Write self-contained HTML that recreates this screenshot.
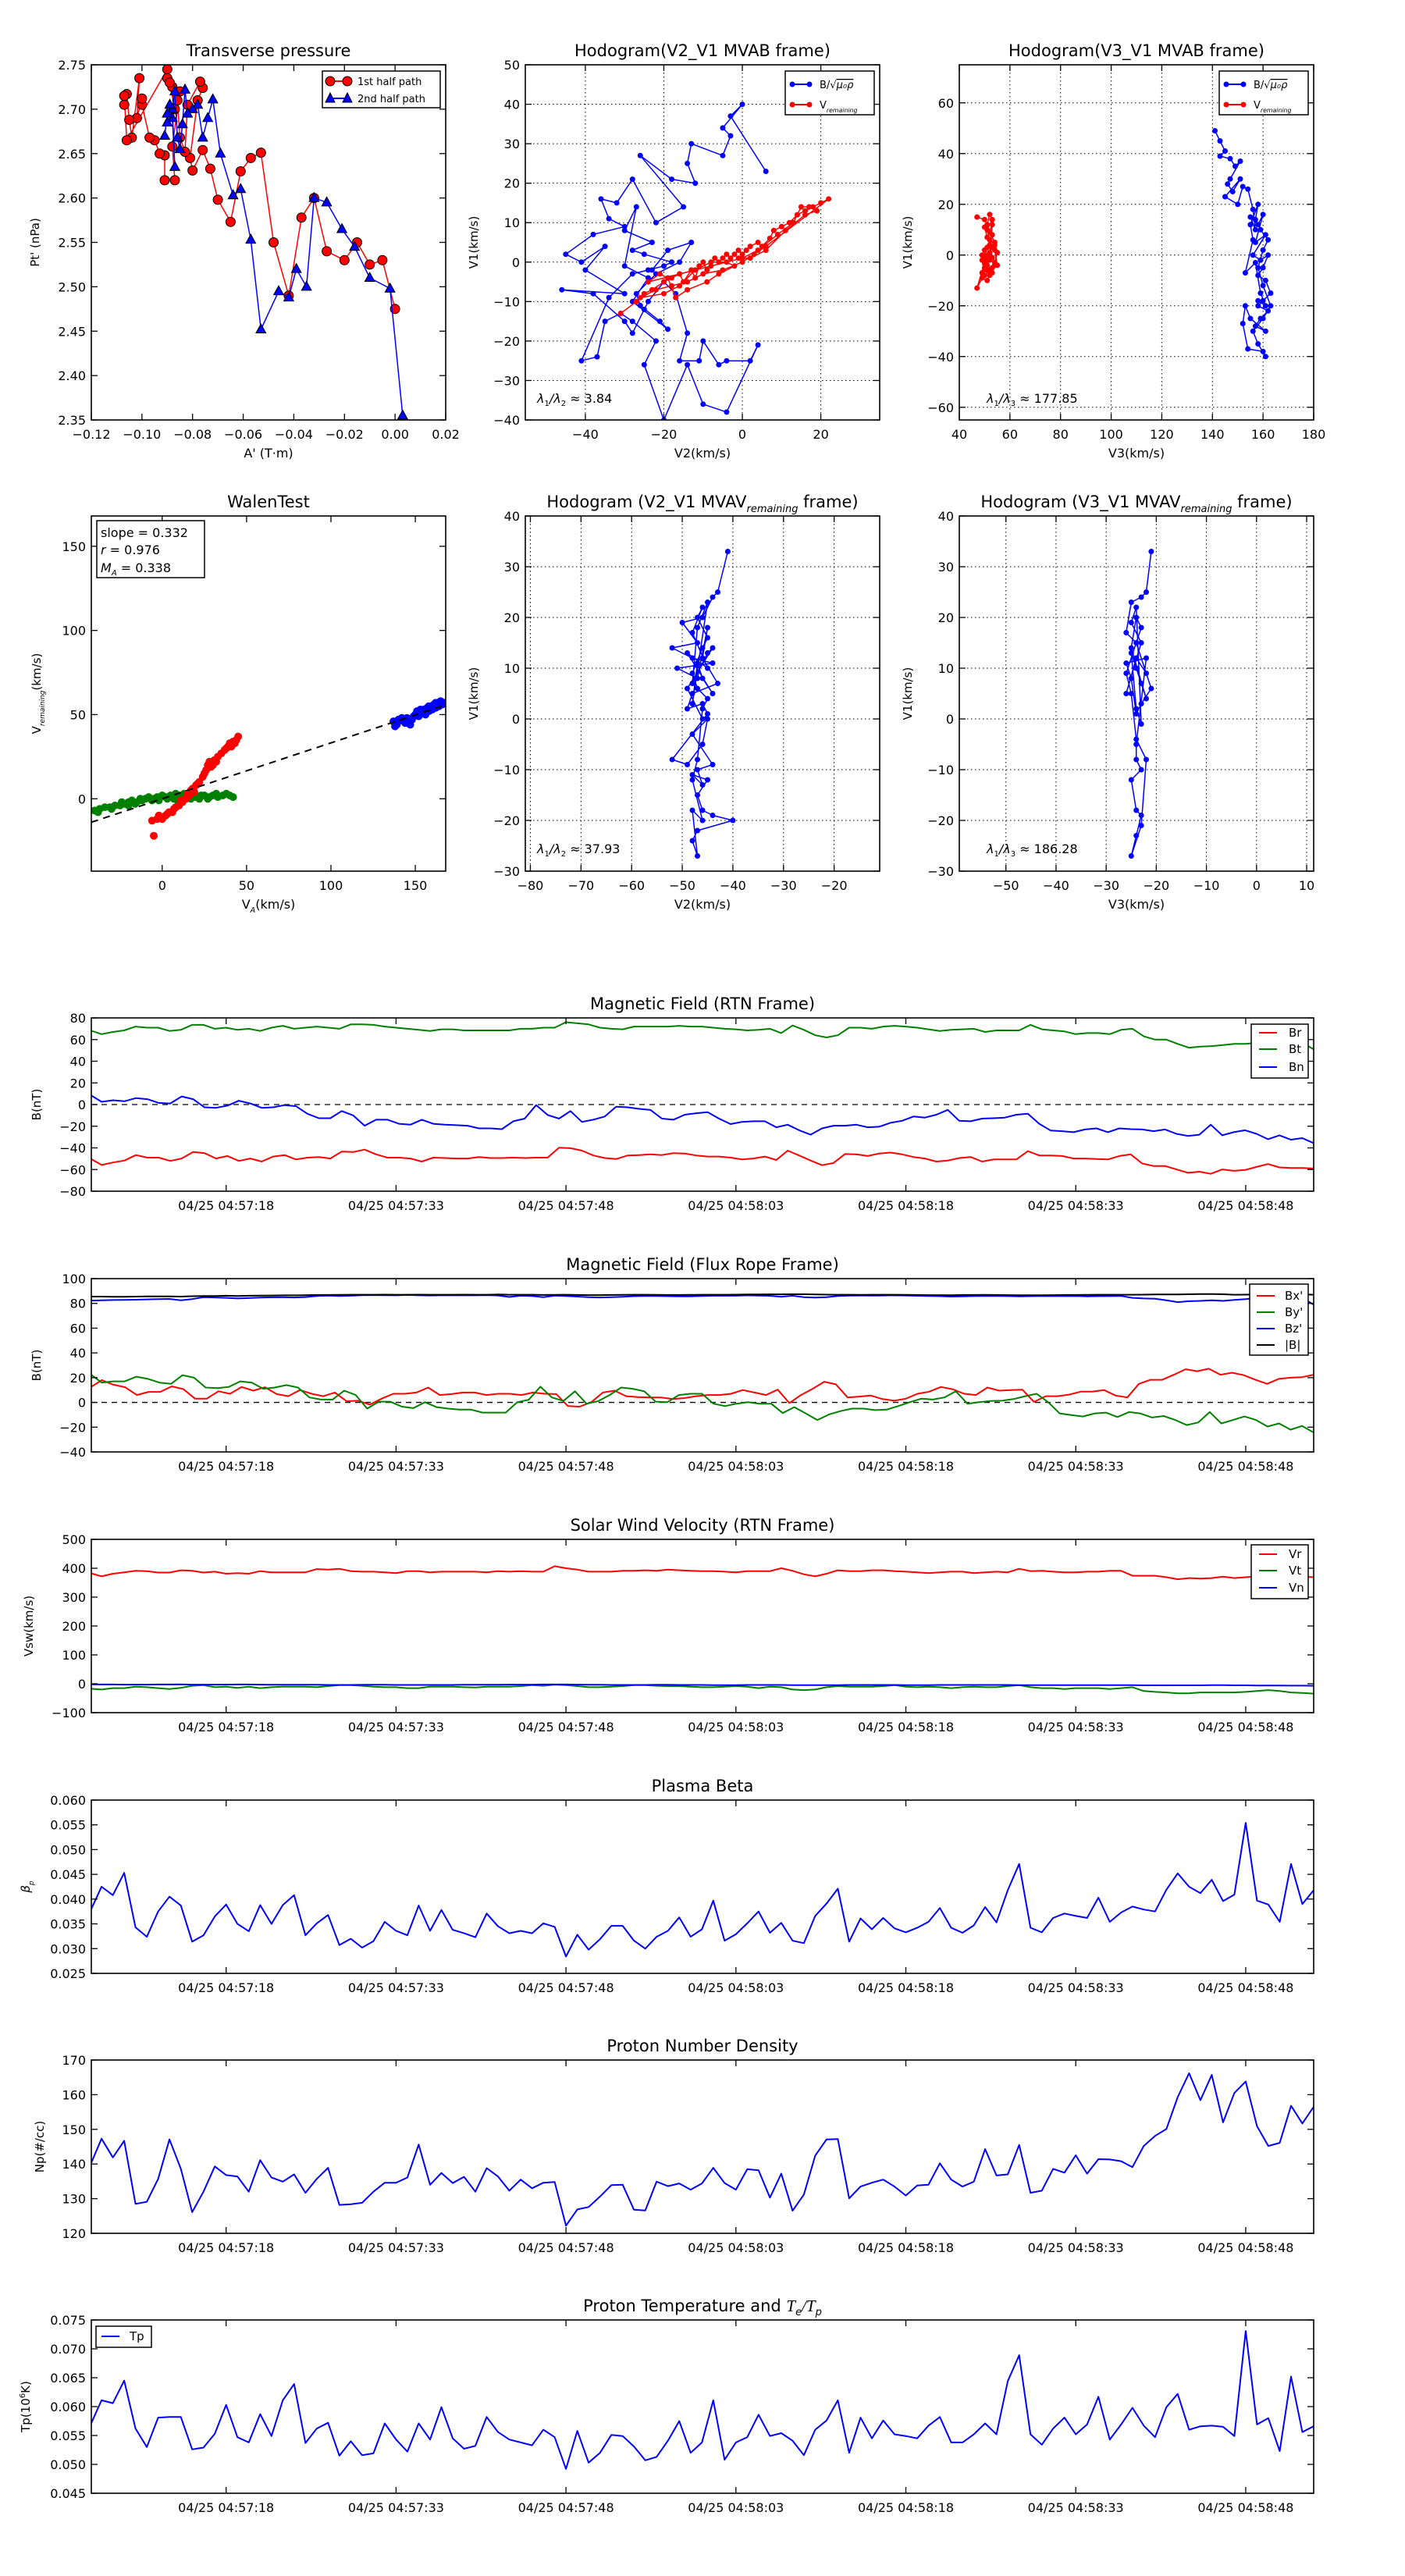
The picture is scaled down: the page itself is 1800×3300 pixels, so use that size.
<!DOCTYPE html>
<html><head><meta charset="utf-8"><title>Flux rope analysis</title>
<style>
html,body{margin:0;padding:0;background:#fff;}
svg{display:block;font-family:"DejaVu Sans","Liberation Sans",sans-serif;}
</style></head>
<body>
<svg id="fig" width="1800" height="3300" viewBox="0 0 1800 3300" xmlns="http://www.w3.org/2000/svg">
<rect x="0" y="0" width="1800" height="3300" fill="#fff"/>
</svg>
<script>
// ---------- Transverse pressure ----------
const tpRedA=[0.000,-0.005,-0.010,-0.015,-0.020,-0.027,-0.032,-0.037,-0.042,-0.048,-0.053,-0.057,-0.061,-0.065,-0.070,-0.073,-0.076,-0.080,-0.081,-0.078,-0.076,-0.077,-0.082,-0.083,-0.085,-0.086,-0.085,-0.088,-0.087,-0.091,-0.091,-0.093,-0.095,-0.097,-0.100,-0.100,-0.102,-0.101,-0.104,-0.105,-0.106,-0.107,-0.107,-0.106,-0.090,-0.090,-0.088,-0.087,-0.089];
const tpRedP=[2.475,2.530,2.525,2.550,2.530,2.540,2.600,2.578,2.490,2.550,2.651,2.645,2.630,2.573,2.598,2.633,2.654,2.631,2.645,2.710,2.724,2.731,2.705,2.652,2.668,2.710,2.720,2.658,2.620,2.620,2.648,2.650,2.665,2.668,2.705,2.712,2.690,2.735,2.668,2.688,2.717,2.705,2.715,2.665,2.745,2.735,2.725,2.700,2.730];
const tpBlueA=[0.003,-0.002,-0.010,-0.016,-0.021,-0.027,-0.032,-0.035,-0.039,-0.042,-0.046,-0.053,-0.057,-0.061,-0.064,-0.069,-0.072,-0.074,-0.076,-0.078,-0.080,-0.082,-0.083,-0.084,-0.085,-0.086,-0.087,-0.088,-0.087,-0.088,-0.089,-0.090,-0.090,-0.091];
const tpBlueP=[2.355,2.498,2.510,2.545,2.565,2.595,2.600,2.500,2.520,2.488,2.495,2.452,2.553,2.610,2.603,2.650,2.711,2.690,2.668,2.705,2.700,2.695,2.722,2.683,2.655,2.668,2.720,2.700,2.635,2.690,2.705,2.685,2.695,2.670];
const tpXTicks=[-0.12,-0.10,-0.08,-0.06,-0.04,-0.02,0.00,0.02];
const tpXLabels=["\u22120.12","\u22120.10","\u22120.08","\u22120.06","\u22120.04","\u22120.02","0.00","0.02"];
const tpYTicks=[2.35,2.40,2.45,2.50,2.55,2.60,2.65,2.70,2.75];
const tpYLabels=["2.35","2.40","2.45","2.50","2.55","2.60","2.65","2.70","2.75"];
// ---------- Hodogram V2-V1 MVAB ----------
const h1BlueX=[6,-3,0,-5,-3,-5,-13,-14,-12,-18,-26,-15,-22,-28,-32,-36,-34,-30,-38,-45,-41,-35,-40,-30,-46,-38,-30,-28,-25,-24,-20,-17,-14,-16,-11,-10,-6,-4,2,4,-4,-10,-14,-20,-25,-22,-28,-31,-35,-37,-41,-34,-28,-24,-20,-18,-25,-28,-23,-30,-27,-30,-24,-28,-19,-21,-26,-27,-22,-16,-13,-19,-23];
const h1BlueY=[23,37,40,34,32,27,30,25,20,21,27,14,10,21,15,16,11,9,7,2,0,4,-2,-8,-7,-8,-15,-18,-12,-10,-5,-8,-18,-25,-25,-20,-26,-25,-25,-21,-38,-36,-26,-40,-26,-20,-15,-13,-15,-24,-25,-9,-3,-2,-1,0,2,3,5,8,14,-1,-4,-10,-17,-15,-11,-8,-3,0,5,3,-2];
const h1RedX=[-31,-27,-25,-23,-20,-18,-16,-15,-13,-12,-11,-10,-9,-8,-7,-6,-5,-4,-3,-2,-1,0,1,2,4,5,7,8,10,12,14,16,18,20,22,6,3,0,-5,-10,-14,-18,-22,-26,-20,-16,-12,-8,-4,-2,-6,-9,-14,-17,-19,-21,-24,0,4,9,13,15,17,19,16,11,6,2,-1];
const h1RedY=[-13,-10,-8,-7,-5,-4,-3,-5,-2,-4,-1,0,-2,-1,1,0,1,2,1,2,3,2,3,4,5,4,6,8,9,10,12,13,14,15,16,4,2,0,-2,-3,-5,-6,-7,-9,-8,-6,-2,0,0,-1,-3,-5,-7,-9,-4,-3,-5,1,3,7,10,14,14,13,12,8,3,1,1];
const h1XTicks=[-40,-20,0,20];
const h1XLabels=["\u221240","\u221220","0","20"];
const h1YTicks=[-40,-30,-20,-10,0,10,20,30,40,50];
const h1YLabels=["\u221240","\u221230","\u221220","\u221210","0","10","20","30","40","50"];
// ---------- Hodogram V3-V1 MVAB ----------
const h2RedX=[47,50,51,52,53,51,53,52,54,53,52,51,50,52,54,53,51,49,50,52,51,49,47,50,53,55,54,52,50,49,51,53,55,54,52,50,51,53,52,51,52,54,50,49,51];
const h2RedY=[15,14,12,16,14,10,8,6,4,3,1,0,-1,-2,-3,-5,-6,-7,-5,-8,-10,-9,-13,-3,-1,-4,2,4,2,0,-4,-7,1,5,9,11,7,12,0,-2,-6,-4,-8,-2,3];
const h2BlueX=[141,143,145,143,147,149,151,147,146,148,151,145,150,152,154,156,157,155,158,160,157,161,156,159,162,160,158,161,163,160,158,162,159,157,161,155,153,152,154,160,161,158,156,160,163,160,158,160,162,159,157,158,155,156,153,157,159,161,158];
const h2BlueY=[49,45,41,39,38,35,37,30,28,25,30,23,20,27,26,18,10,15,12,16,5,8,0,-2,0,-5,-8,-10,-15,-18,-20,-22,-25,-28,-30,-25,-20,-27,-37,-38,-40,-35,-30,-25,-20,-12,-5,2,6,10,14,20,12,6,-7,-3,-15,-20,-18];
const h2XTicks=[40,60,80,100,120,140,160,180];
const h2XLabels=["40","60","80","100","120","140","160","180"];
const h2YTicks=[-60,-40,-20,0,20,40,60];
const h2YLabels=["\u221260","\u221240","\u221220","0","20","40","60"];
// ---------- Walen test ----------
const wGreenX=[-40,-37,-34,-31,-28,-25,-22,-20,-18,-15,-13,-10,-8,-5,-3,0,2,5,8,10,12,15,18,20,23,25,28,30,33,36,38,40,42,-30,-20,-12,-6,3,7,13,17,22,27,32,-38,-24,-16,-2,9,19];
const wGreenY=[-7,-6,-5,-5,-4,-4,-3,-2,-1,-2,0,0,1,0,1,2,1,2,3,2,1,2,3,1,2,2,1,2,1,2,3,2,1,-6,-4,-1,-1,0,0,3,0,0,0,3,-8,-2,-3,-1,-1,2];
const wRedX=[-5,-6,-3,0,2,4,6,8,10,12,14,16,17,18,20,22,24,26,27,28,30,31,33,35,37,39,40,42,44,45,-2,3,7,11,15,19,25,32,38,43,41,29,21];
const wRedY=[-22,-13,-12,-12,-10,-8,-8,-5,-4,-2,0,2,5,6,8,10,13,17,20,22,20,23,25,27,29,31,33,34,35,37,-10,-9,-6,-1,3,4,15,22,30,33,31,19,9];
const wBlueX=[137,138,140,142,144,145,147,148,150,151,152,154,155,156,157,158,159,160,161,162,163,164,165,166,167,146,149,153,158,162,139,143];
const wBlueY=[46,43,47,48,45,48,44,47,50,52,49,51,53,50,54,52,55,53,56,54,57,55,58,56,57,46,49,53,55,57,44,46];
const wSlope=[0.332];
const wXTicks=[0,50,100,150];
const wXLabels=["0","50","100","150"];
const wYTicks=[0,50,100,150];
const wYLabels=["0","50","100","150"];
// ---------- Hodogram V2-V1 MVAV ----------
const h3X=[-41,-43,-44,-46,-50,-47,-52,-48,-44,-51,-47,-45,-46,-43,-48,-49,-46,-45,-52,-49,-46,-45,-48,-44,-47,-46,-48,-45,-47,-46,-44,-40,-47,-48,-47,-48,-46,-48,-47,-46,-45,-47,-48,-46,-45,-47,-46,-48,-45,-49,-44,-46,-47,-48,-45,-47,-48,-45,-44,-49,-46];
const h3Y=[33,25,24,20,19,15,14,12,11,10,8,18,12,7,5,2,3,1,-8,-9,-5,0,-3,-9,-10,-13,-11,-12,-15,-18,-19,-20,-22,-24,-27,-18,-20,-12,-8,2,4,6,9,14,16,20,22,17,10,13,5,8,11,3,23,18,7,13,14,6,0];
const h3XTicks=[-80,-70,-60,-50,-40,-30,-20];
const h3XLabels=["\u221280","\u221270","\u221260","\u221250","\u221240","\u221230","\u221220"];
const vYTicks=[-30,-20,-10,0,10,20,30,40];
const vYLabels=["\u221230","\u221220","\u221210","0","10","20","30","40"];
// ---------- Hodogram V3-V1 MVAV ----------
const h4X=[-21,-22,-23,-25,-26,-24,-21,-23,-24,-25,-26,-22,-24,-24,-23,-25,-24,-23,-24,-25,-23,-22,-24,-25,-26,-23,-24,-25,-22,-23,-24,-25,-24,-23,-24,-25,-23,-26,-24,-22];
const h4Y=[33,25,24,23,17,15,6,3,1,8,11,12,-5,-8,-10,-12,-18,-19,-23,-27,-21,-8,-4,5,9,18,20,14,4,7,10,13,2,-1,22,19,15,5,12,9];
const h4XTicks=[-50,-40,-30,-20,-10,0,10];
const h4XLabels=["\u221250","\u221240","\u221230","\u221220","\u221210","0","10"];
// ---------- Time series (1 sample per second, 04:57:06 - 04:58:54) ----------
const timeTicks=[18,33,48,63,78,93,108];
const timeLabels=["04/25 04:57:18","04/25 04:57:33","04/25 04:57:48","04/25 04:58:03","04/25 04:58:18","04/25 04:58:33","04/25 04:58:48"];
const Br=[-49.8,-55.8,-53.5,-51.7,-46.6,-49,-49,-52,-49.8,-43.8,-44.8,-49.8,-47.5,-52,-49.8,-52.6,-48,-46.6,-50.7,-49,-48.4,-49.8,-43.4,-43.8,-41.6,-46,-49,-49,-49.8,-52.6,-49,-49.4,-49.8,-49.8,-48.4,-49.4,-49.4,-49,-49.4,-49,-49,-39.8,-40.3,-42.5,-47,-49.4,-50.3,-47,-46.6,-46,-46.6,-44.8,-45.2,-47,-48,-48,-49,-50.7,-49.8,-48,-51.2,-42.5,-47,-51.7,-56,-54,-45.7,-46,-47.5,-45.2,-44.3,-46,-48.4,-49.8,-52.6,-51.7,-49.4,-48.4,-52.6,-50.7,-50.7,-50.7,-43,-47,-47,-47.5,-49.8,-49.8,-50.3,-50.7,-47.5,-46,-54.4,-56.7,-56.7,-59.9,-63,-62,-63.9,-59.9,-61.2,-60.4,-57.6,-54.9,-58,-58.5,-58.5,-59];
const Bt=[68.5,65,67,68.5,72,71,71,68,69,73.6,73.6,70,71,69,70,68,71,72.7,70,71,72,71,70,74,74,73.6,72,71,70,69,68,69.5,69.5,68.5,68.5,68.5,68.5,68.5,70,70,71,71,76,75,74,71,70,69.5,72,72,72,72,72.7,72,72,71,70,69.5,68.5,69,70,66,73,69,64,62,64,71,71,70,72,72.7,72,71,69.5,68,69,69.5,70,67,68.5,68.5,68.5,73.6,69.5,68.5,67.5,65,66,66,65,69,70,63,60,60,56,52.5,53.5,54,55,56,56,57,58,58,60,57,51];
const Bn=[9,2.5,4,3,6,5,1.5,1,7.5,5,-2.5,-3,-1,3.5,1,-3,-2.5,-0.5,-1.5,-8.5,-12.6,-12.6,-6,-10,-19.5,-14,-14,-17.7,-18.6,-14,-17.7,-18.6,-19,-19.5,-22,-22,-22.7,-15.4,-13,-0.5,-9.6,-13,-6,-16,-14,-11,-2,-2.5,-4,-5,-13,-14,-9.4,-8,-7,-13,-18,-16,-15.4,-15.4,-21,-18.6,-23.7,-27.8,-22,-19.5,-19.5,-18.6,-21,-20.5,-16.8,-15,-11,-12,-9.4,-4.9,-15,-15.4,-13,-12.6,-12,-9.4,-8.5,-17.7,-24,-24.6,-25.5,-23,-22,-25.5,-22,-22.7,-23,-24.6,-23,-27,-29,-27.8,-18.6,-28.4,-25.5,-23.7,-27,-32,-28.4,-32.4,-31,-35.6];
const Bxp=[12,18,14.3,12.3,6,8.5,8.5,13,10.7,3,3,9,7,12.5,9.5,12.3,6.7,5,10,7,5,8,1,1.4,-1.8,3,7,7,8,12,6,6.7,8,8,6,7,7,6,8,7,6.7,-3,-3.4,0.2,8,9.5,5,4.3,4,4,2.7,3.5,5,6,6,7,10,8,6,10.3,-0.5,6,11,16.7,14.6,4,4.7,5.5,2.7,1.4,3,7,8.7,12.5,10.7,7,6,12,9.5,10,10.3,0.4,5,5,6.3,8.7,8.7,10,5.5,4,15,18.3,18.3,22.4,26.8,25.2,27.2,22.4,24,22,18.3,15,19,20,20.4,22.4];
const Byp=[23,16,17,17,20.8,19,16,15,22,20,12,11.5,12.5,17,16,11,12,14,12,4,2.3,2.3,9.5,6,-5,0.6,0.6,-3.4,-4.6,0.2,-3.8,-5,-5.8,-5.8,-8.2,-8.2,-8.2,0.2,2.2,12.7,4,1.2,9,-1,1,6,12,11,9,0.6,0.2,6,7,7,-1,-3,-1,0.2,-1,-1,-8.6,-3.8,-9,-14.2,-9.8,-7,-5,-5,-6.2,-5.8,-3,0.2,3,2.3,4,9,-1,0.2,1.2,1.4,2.7,5,7,0.2,-9,-10.2,-11.4,-9,-8.2,-11.8,-7.8,-9,-12.2,-11,-14.2,-18.3,-16.2,-7.8,-17,-14.2,-11.4,-14.2,-19.5,-17,-22,-19,-24.3];
const Bzp=[82.3,82.5,82.7,82.8,83.0,83.2,83.5,83.6,82.5,83.5,85.0,84.8,84.5,84.0,84.3,84.7,84.9,85.0,84.8,85.1,86.0,86.3,86.0,86.2,86.6,86.7,86.6,86.5,86.8,86.5,86.4,86.6,86.5,86.6,86.5,86.7,86.4,85.2,86.2,86.0,85.0,86.3,86.0,85.5,85.0,84.8,85.0,85.3,85.8,86.0,86.0,85.8,85.6,85.7,86.0,86.2,86.3,86.2,86.5,86.3,86.1,85.4,86.2,85.0,84.7,85.0,86.0,86.3,86.4,86.3,86.4,86.5,86.4,86.1,86.0,85.8,85.5,85.6,85.9,86.0,86.0,85.9,85.6,85.8,86.0,85.9,85.9,86.0,85.7,85.8,85.9,86.0,84.5,84.0,83.8,82.5,81.0,81.8,82.0,82.5,82.0,82.8,83.4,84.5,85.5,86.0,86.0,84.5,79.0];
const Btot=[85.5,85.5,85.3,85.4,85.5,85.6,85.6,85.7,85.5,85.8,86.0,86.0,86.2,86.0,86.2,86.3,86.4,86.5,86.5,86.6,86.8,86.8,86.9,87.0,87.0,87.0,87.1,87.0,87.0,87.1,87.0,87.0,87.0,87.1,87.0,87.0,87.2,87.0,87.0,87.0,86.8,86.9,87.0,86.8,86.7,86.7,86.8,86.9,87.0,87.0,86.9,86.8,86.8,86.9,87.0,87.0,87.0,87.1,87.2,87.2,87.3,87.3,87.4,87.4,87.2,87.1,87.0,87.0,86.9,87.0,87.0,87.0,86.9,86.8,86.7,86.7,86.6,86.8,86.8,86.9,86.8,86.7,86.6,86.6,86.6,86.7,86.8,86.8,86.9,87.0,87.0,87.0,87.0,87.1,87.2,87.2,87.2,87.4,87.5,87.5,87.4,87.0,87.1,87.2,87.0,87.1,87.2,87.3,87.0];
const Vr=[383,372,381,386,391,390,385,385,393,391,385,388,381,383,381,390,386,386,386,386,397,395,398,390,388,388,386,383,390,390,386,388,388,388,388,386,390,388,390,388,388,407,400,395,388,388,388,391,391,393,391,395,393,391,390,390,388,386,390,390,390,400,391,379,372,381,393,390,390,393,393,390,388,386,383,386,388,388,383,386,388,386,398,390,391,388,386,386,388,388,391,391,374,374,374,369,362,366,364,366,371,366,369,372,374,371,369,371,369];
const Vt=[-17,-20,-15,-15,-10,-12,-15,-18,-14,-7,-5,-12,-10,-14,-10,-15,-12,-10,-10,-10,-12,-8,-5,-5,-7,-10,-12,-12,-15,-15,-10,-10,-10,-12,-13,-10,-10,-10,-8,-5,-7,-3,-5,-8,-12,-12,-10,-8,-5,-5,-7,-8,-8,-10,-12,-12,-10,-8,-10,-15,-10,-12,-20,-22,-20,-12,-8,-10,-10,-10,-8,-5,-10,-12,-10,-12,-15,-12,-10,-12,-12,-8,-5,-12,-15,-15,-18,-15,-15,-15,-18,-15,-12,-25,-28,-30,-33,-33,-30,-30,-30,-30,-28,-25,-22,-25,-30,-32,-34];
const Vn=[-2,-2.5,-2.5,-3,-3,-3,-2.5,-2.5,-2,-3,-3,-3,-3,-2.5,-2.5,-3,-3.5,-3.5,-3.5,-3.5,-3.5,-4,-4,-4,-3.5,-3.5,-3.5,-4,-4,-4,-4,-4,-4,-3.5,-3.5,-3.5,-3.5,-3,-3,-3,-2.5,-2.5,-2.5,-3,-3.5,-3.5,-4,-4,-4,-4,-3.5,-3.5,-4,-4,-4,-4.5,-4.5,-4.5,-4,-4,-4,-4,-4.5,-5,-5,-5,-4.5,-4,-4,-4,-4,-4,-4.5,-4.5,-4.5,-4,-4,-4,-4,-4,-4,-4,-4.5,-4.5,-4.5,-5,-5,-5,-5,-5,-5,-5,-5,-5.5,-5.5,-5.5,-5.5,-5.5,-5.5,-5,-5,-5.5,-5.5,-6,-6,-6,-6.5,-6.5,-7];
const beta=[0.0375,0.0425,0.0408,0.0453,0.0343,0.0324,0.0375,0.0405,0.0387,0.0314,0.0327,0.0365,0.0389,0.0350,0.0335,0.0388,0.0350,0.0388,0.0408,0.0327,0.0351,0.0368,0.0307,0.0320,0.0302,0.0315,0.0354,0.0336,0.0327,0.0387,0.0336,0.0378,0.0338,0.0331,0.0323,0.0371,0.0345,0.0331,0.0336,0.0331,0.0351,0.0344,0.0284,0.0328,0.0298,0.0319,0.0346,0.0346,0.0316,0.0300,0.0324,0.0336,0.0363,0.0324,0.0339,0.0397,0.0316,0.0329,0.0351,0.0375,0.0332,0.0352,0.0316,0.0311,0.0366,0.0391,0.0421,0.0314,0.0361,0.0339,0.0362,0.0341,0.0333,0.0342,0.0354,0.0382,0.0342,0.0332,0.0347,0.0384,0.0353,0.0418,0.0471,0.0342,0.0333,0.0362,0.0371,0.0366,0.0362,0.0403,0.0354,0.0373,0.0385,0.0379,0.0375,0.0419,0.0452,0.0425,0.0412,0.0439,0.0396,0.0409,0.0554,0.0397,0.0389,0.0354,0.0471,0.0390,0.0418];
const Np=[139.6,147.3,141.9,146.7,128.5,129.1,135.7,147.1,138.6,126.1,132,139.3,136.8,136.4,132,141.1,136.1,134.9,137,131.7,135.7,138.9,128.2,128.4,128.8,132,134.6,134.6,136.1,145.6,134,137.4,134.5,136.3,132,138.8,136.4,132.3,135.5,133,134.6,134.8,122.2,126.9,127.6,130.6,133.9,134,126.8,126.6,134.9,133.6,134.4,132.6,134.4,138.9,134.5,132.6,138.5,138.2,130.3,137.2,126.5,131.2,142.4,147.1,147.2,130.1,133.5,134.6,135.5,133.5,130.9,133.8,134,140.2,135.5,133.5,134.9,144.3,136.7,137,145.5,131.7,132.3,138.6,137.5,142.5,137.2,141.4,141.3,140.8,139.1,145.2,148.1,150.1,159.3,166.2,158.4,165.7,152,160.5,163.8,150.9,145.2,146.1,156.8,151.7,156.5];
const Tp=[0.0567,0.0611,0.0606,0.0645,0.0562,0.0530,0.0581,0.0582,0.0582,0.0526,0.0529,0.0553,0.0603,0.0547,0.0538,0.0587,0.0549,0.0611,0.0639,0.0537,0.0562,0.0572,0.0515,0.0540,0.0516,0.0519,0.0571,0.0543,0.0522,0.0571,0.0543,0.0599,0.0545,0.0527,0.0532,0.0582,0.0556,0.0543,0.0538,0.0533,0.0560,0.0547,0.0492,0.0558,0.0503,0.0520,0.0551,0.0549,0.0531,0.0507,0.0513,0.0541,0.0575,0.0520,0.0538,0.0611,0.0508,0.0538,0.0547,0.0586,0.0549,0.0554,0.0541,0.0516,0.0560,0.0576,0.0611,0.0520,0.0581,0.0545,0.0576,0.0552,0.0549,0.0545,0.0567,0.0582,0.0538,0.0538,0.0552,0.0571,0.0552,0.0644,0.0689,0.0552,0.0534,0.0562,0.0581,0.0552,0.0569,0.0617,0.0543,0.0569,0.0598,0.0567,0.0547,0.0599,0.0622,0.0560,0.0566,0.0567,0.0565,0.0549,0.0731,0.0569,0.0580,0.0523,0.0652,0.0556,0.0566];

// ---------- drawing ----------
const NS='http://www.w3.org/2000/svg';
const svg=document.getElementById('fig');
let clipN=0;
function mk(tag,attrs,parent){const e=document.createElementNS(NS,tag);for(const k in attrs)e.setAttribute(k,attrs[k]);parent.appendChild(e);return e;}
function txt(str,attrs,parent){const e=mk('text',attrs,parent);e.textContent=str;return e;}

function axes(o){
  const g=mk('g',{},svg);
  
  
  const sx=v=>o.x+(v-o.xd[0])/(o.xd[1]-o.xd[0])*o.w;
  const sy=v=>o.y+o.h-(v-o.yd[0])/(o.yd[1]-o.yd[0])*o.h;
  const id='clip'+(clipN++);
  const cp=mk('clipPath',{id:id},g);
  mk('rect',{x:o.x,y:o.y,width:o.w,height:o.h},cp);
  if(o.grid){
    const gg=mk('g',{stroke:'#000','stroke-width':1,'stroke-dasharray':'1.5,3.5'},g);
    
    
    o.xticks.forEach(v=>{const X=sx(v);if(X>o.x+1&&X<o.x+o.w-1)mk('line',{x1:X,y1:o.y,x2:X,y2:o.y+o.h},gg);});
    o.yticks.forEach(v=>{const Y=sy(v);if(Y>o.y+1&&Y<o.y+o.h-1)mk('line',{x1:o.x,y1:Y,x2:o.x+o.w,y2:Y},gg);});
  }
  const dg=mk('g',{'clip-path':'url(#'+id+')'},g);
  
  
  const tg=mk('g',{stroke:'#000','stroke-width':1.3},g);
  
  
  const lg=mk('g',{'font-size':16,fill:'#000'},g);
  
  
  o.xticks.forEach((v,i)=>{const X=sx(v);
    mk('line',{x1:X,y1:o.y+o.h,x2:X,y2:o.y+o.h-8},tg);
    mk('line',{x1:X,y1:o.y,x2:X,y2:o.y+8},tg);
    txt(o.xlabels[i],{x:X,y:o.y+o.h+24,'text-anchor':'middle'},lg);});
  o.yticks.forEach((v,i)=>{const Y=sy(v);
    mk('line',{x1:o.x,y1:Y,x2:o.x+8,y2:Y},tg);
    mk('line',{x1:o.x+o.w,y1:Y,x2:o.x+o.w-8,y2:Y},tg);
    txt(o.ylabels[i],{x:o.x-7,y:Y+6,'text-anchor':'end'},lg);});
  const fr=mk('rect',{x:o.x,y:o.y,width:o.w,height:o.h,fill:'none',stroke:'#000','stroke-width':1.6},g);
  
  
  if(o.title){const t=mk('text',{x:o.x+o.w/2,y:o.y-11,'text-anchor':'middle','font-size':21},g);
    
    
    if(typeof o.title==='string')t.textContent=o.title;else o.title(t);}
  if(o.xlabel){const t=txt(o.xlabel,{x:o.x+o.w/2,y:o.y+o.h+48,'text-anchor':'middle','font-size':16},g);
    
    }
  if(o.ylabel){const t=mk('text',{x:o.ylx,y:o.y+o.h/2,'text-anchor':'middle','font-size':15,transform:'rotate(-90 '+o.ylx+' '+(o.y+o.h/2)+')'},g);
    
    
    if(typeof o.ylabel==='string')t.textContent=o.ylabel;else o.ylabel(t);}
  return {g,dg,sx,sy,o};
}
function sub(t,main,subs,italicSub){
  t.appendChild(document.createTextNode(main));
  const s=document.createElementNS(NS,'tspan');
  s.setAttribute('font-size','0.6em');s.setAttribute('dy','5');
  if(italicSub)s.setAttribute('font-style','italic');
  s.textContent=subs;t.appendChild(s);return s;
}
function polyline(ax,xs,ys,color,w,name){
  const d=xs.map((v,i)=>(i?'L':'M')+ax.sx(v).toFixed(1)+' '+ax.sy(ys[i]).toFixed(1)).join('');
  const p=mk('path',{d:d,fill:'none',stroke:color,'stroke-width':w,'stroke-linejoin':'round'},ax.dg);
  
  
  return p;
}
function dots(ax,xs,ys,color,r,name,edge){
  const g=mk('g',{fill:color},ax.dg);
  
  
  xs.forEach((v,i)=>{const c=mk('circle',{cx:ax.sx(v).toFixed(1),cy:ax.sy(ys[i]).toFixed(1),r:r},g);
    if(edge){c.setAttribute('stroke','#000');c.setAttribute('stroke-width','1');}
    
    });
  return g;
}
function tris(ax,xs,ys,color,s,name){
  const g=mk('g',{fill:color,stroke:'#000','stroke-width':1},ax.dg);
  
  
  xs.forEach((v,i)=>{const X=ax.sx(v),Y=ax.sy(ys[i]);
    const p=mk('polygon',{points:`${X},${Y-s} ${X-s*0.9},${Y+s*0.65} ${X+s*0.9},${Y+s*0.65}`},g);
    
    });
}
function legendBox(x,y,w,h,name){
  const g=mk('g',{},svg);
  
  
  mk('rect',{x:x,y:y,width:w,height:h,fill:'#fff',stroke:'#000','stroke-width':1.5},g);
  return g;
}
function legLine(g,x,y,color,marker,label,fs,gap){
  mk('line',{x1:x,y1:y,x2:x+(marker?28:23),y2:y,stroke:color,'stroke-width':2},g);
  if(marker==='dot'){mk('circle',{cx:x+3,cy:y,r:3.5,fill:color},g);mk('circle',{cx:x+25,cy:y,r:3.5,fill:color},g);}
  if(marker==='big'){mk('circle',{cx:x+3,cy:y,r:6,fill:color,stroke:'#000'},g);mk('circle',{cx:x+25,cy:y,r:6,fill:color,stroke:'#000'},g);}
  if(marker==='tri'){[x+3,x+25].forEach(X=>mk('polygon',{points:`${X},${y-7} ${X-6},${y+5} ${X+6},${y+5}`,fill:color,stroke:'#000'},g));}
  const t=mk('text',{x:x+(gap||38),y:y+5,'font-size':fs||13},g);
  if(typeof label==='string')t.textContent=label;else label(t);
  
  
  return t;
}
function note(x,y,s1,rest){
  const t=mk('text',{x:x,y:y,'font-size':16},svg);
  
  
  const a=document.createElementNS(NS,'tspan');a.setAttribute('font-style','italic');a.textContent='\u03bb';t.appendChild(a);
  let s=document.createElementNS(NS,'tspan');s.setAttribute('font-size','10');s.setAttribute('dy','4');s.textContent='1';t.appendChild(s);
  let b=document.createElementNS(NS,'tspan');b.setAttribute('dy','-4');b.setAttribute('font-style','italic');b.textContent='/\u03bb';t.appendChild(b);
  s=document.createElementNS(NS,'tspan');s.setAttribute('font-size','10');s.setAttribute('dy','4');s.textContent=s1;t.appendChild(s);
  b=document.createElementNS(NS,'tspan');b.setAttribute('dy','-4');b.textContent=' \u2248 '+rest;t.appendChild(b);
}

const C1=117,C2=673,C3=1229,W=454,R1=83,R2=661,H=455;
const BLUE='#0000ff',RED='#ff0000',GREEN='#008000';

// Transverse pressure
let ax=axes({name:'transverse-pressure',x:C1,y:R1,w:W,h:H,xd:[-0.12,0.02],yd:[2.35,2.75],xticks:tpXTicks,xlabels:tpXLabels,yticks:tpYTicks,ylabels:tpYLabels,title:'Transverse pressure',xlabel:"A' (T\u00b7m)",ylabel:"Pt' (nPa)",ylx:50});
polyline(ax,tpRedA,tpRedP,RED,1.5,'first-half-path-line');
dots(ax,tpRedA,tpRedP,RED,6,'first-half-path-markers',true);
polyline(ax,tpBlueA,tpBlueP,BLUE,1.5,'second-half-path-line');
tris(ax,tpBlueA,tpBlueP,BLUE,7,'second-half-path-markers');
let lg=legendBox(413,91,151,47,'transverse-pressure-legend');
legLine(lg,420,104,RED,'big','1st half path');
legLine(lg,420,126,BLUE,'tri','2nd half path');

function bLabel(t){t.textContent='B/\u221a';const s=document.createElementNS(NS,'tspan');s.setAttribute('font-style','italic');s.setAttribute('text-decoration','overline');s.textContent='\u03bc\u2080\u03c1';t.appendChild(s);}
function vrLabel(t){sub(t,'V','remaining',true);}

// Hodogram 1
ax=axes({name:'hodogram-v2-v1-mvab',x:C2,y:R1,w:W,h:H,xd:[-55.3,35],yd:[-40,50],xticks:h1XTicks,xlabels:h1XLabels,yticks:h1YTicks,ylabels:h1YLabels,grid:true,title:'Hodogram(V2_V1 MVAB frame)',xlabel:'V2(km/s)',ylabel:'V1(km/s)',ylx:612});
polyline(ax,h1BlueX,h1BlueY,BLUE,1.5,'alfven-velocity-path');
dots(ax,h1BlueX,h1BlueY,BLUE,3.5,'alfven-velocity-markers');
polyline(ax,h1RedX,h1RedY,RED,1.5,'remaining-velocity-path');
dots(ax,h1RedX,h1RedY,RED,3.5,'remaining-velocity-markers');
lg=legendBox(1006,91,114,56,'hodogram-v2-v1-mvab-legend');
legLine(lg,1012,108,BLUE,'dot',bLabel,13);
legLine(lg,1012,134,RED,'dot',vrLabel,13);
note(688,516,'2','3.84');

// Hodogram 2
ax=axes({name:'hodogram-v3-v1-mvab',x:C3,y:R1,w:W,h:H,xd:[40,180],yd:[-65,75],xticks:h2XTicks,xlabels:h2XLabels,yticks:h2YTicks,ylabels:h2YLabels,grid:true,title:'Hodogram(V3_V1 MVAB frame)',xlabel:'V3(km/s)',ylabel:'V1(km/s)',ylx:1168});
polyline(ax,h2BlueX,h2BlueY,BLUE,1.5,'alfven-velocity-path');
dots(ax,h2BlueX,h2BlueY,BLUE,3.5,'alfven-velocity-markers');
polyline(ax,h2RedX,h2RedY,RED,1.5,'remaining-velocity-path');
dots(ax,h2RedX,h2RedY,RED,3.5,'remaining-velocity-markers');
lg=legendBox(1562,91,114,56,'hodogram-v3-v1-mvab-legend');
legLine(lg,1568,108,BLUE,'dot',bLabel,13);
legLine(lg,1568,134,RED,'dot',vrLabel,13);
note(1264,516,'3','177.85');

// Walen test
ax=axes({name:'walen-test',x:C1,y:R2,w:W,h:H,xd:[-42,168],yd:[-43,168],xticks:wXTicks,xlabels:wXLabels,yticks:wYTicks,ylabels:wYLabels,title:'WalenTest',xlabel:null,ylabel:t=>{sub(t,'V','remaining',true);const r=document.createElementNS(NS,'tspan');r.setAttribute('dy','-5');r.textContent='(km/s)';t.appendChild(r);},ylx:52});
dots(ax,wGreenX,wGreenY,GREEN,5,'walen-green-points');
dots(ax,wRedX,wRedY,RED,5,'walen-red-points');
dots(ax,wBlueX,wBlueY,BLUE,5,'walen-blue-points');
const fitL=mk('line',{x1:ax.sx(-42),y1:ax.sy(-42*wSlope[0]),x2:ax.sx(168),y2:ax.sy(168*wSlope[0]),stroke:'#000','stroke-width':2,'stroke-dasharray':'9,7'},ax.dg);


let xl=mk('text',{x:C1+W/2,y:R2+H+48,'text-anchor':'middle','font-size':16},svg);
sub(xl,'V','A',true);
let rr=document.createElementNS(NS,'tspan');rr.setAttribute('dy','-5');rr.textContent='(km/s)';xl.appendChild(rr);


lg=legendBox(124,667,138,73,'walen-stats-box');
txt('slope = 0.332',{x:129,y:688,'font-size':16},lg);
let t2=mk('text',{x:129,y:710,'font-size':16},lg);t2.innerHTML='<tspan font-style="italic">r</tspan> = 0.976';
let t3=mk('text',{x:129,y:733,'font-size':16},lg);t3.innerHTML='<tspan font-style="italic">M</tspan><tspan font-size="10" dy="4" font-style="italic">A</tspan><tspan dy="-4"> = 0.338</tspan>';

function mvavTitle(pre){return t=>{t.appendChild(document.createTextNode(pre));const s=document.createElementNS(NS,'tspan');s.setAttribute('font-size','13');s.setAttribute('dy','6');s.setAttribute('font-style','italic');s.textContent='remaining';t.appendChild(s);const r=document.createElementNS(NS,'tspan');r.setAttribute('dy','-6');r.textContent=' frame)';t.appendChild(r);};}
// Hodogram 3
ax=axes({name:'hodogram-v2-v1-mvav',x:C2,y:R2,w:W,h:H,xd:[-81,-11],yd:[-30,40],xticks:h3XTicks,xlabels:h3XLabels,yticks:vYTicks,ylabels:vYLabels,grid:true,title:mvavTitle('Hodogram (V2_V1 MVAV'),xlabel:'V2(km/s)',ylabel:'V1(km/s)',ylx:612});
polyline(ax,h3X,h3Y,BLUE,1.5,'mvav-v2-path');
dots(ax,h3X,h3Y,BLUE,3.5,'mvav-v2-markers');
note(688,1093,'2','37.93');
// Hodogram 4
ax=axes({name:'hodogram-v3-v1-mvav',x:C3,y:R2,w:W,h:H,xd:[-59.3,11.4],yd:[-30,40],xticks:h4XTicks,xlabels:h4XLabels,yticks:vYTicks,ylabels:vYLabels,grid:true,title:mvavTitle('Hodogram (V3_V1 MVAV'),xlabel:'V3(km/s)',ylabel:'V1(km/s)',ylx:1168});
polyline(ax,h4X,h4Y,BLUE,1.5,'mvav-v3-path');
dots(ax,h4X,h4Y,BLUE,3.5,'mvav-v3-markers');
note(1264,1093,'3','186.28');

// Time series panels
const TX=117,TW=1566,TH=222;
function tArr(n){const a=[];for(let i=0;i<n;i++)a.push(6+i*108/(n-1));return a;}
function tsPanel(name,y,yd,yt,yl,title,ylabel,ylx){
  return axes({name:name,x:TX,y:y,w:TW,h:TH,xd:[6.1,114],yd:yd,xticks:timeTicks,xlabels:timeLabels,yticks:yt,ylabels:yl,title:title,ylabel:ylabel,ylx:ylx});
}
function series(ax,arr,color,name){return polyline(ax,tArr(arr.length),arr,color,2,name);}
function zeroLine(ax){const l=mk('line',{x1:TX,y1:ax.sy(0),x2:TX+TW,y2:ax.sy(0),stroke:'#000','stroke-width':1.3,'stroke-dasharray':'7,6'},ax.dg);
  
  }
function minusLab(arr,d){return arr.map(v=>(v<0?'\u2212':'')+Math.abs(v).toFixed(d));}

const rtnTicks=[-80,-60,-40,-20,0,20,40,60,80];
ax=tsPanel('magnetic-field-rtn',1304,[-80,80],rtnTicks,minusLab(rtnTicks,0),'Magnetic Field (RTN Frame)','B(nT)',52);
zeroLine(ax);
series(ax,Br,RED,'br-line');series(ax,Bt,GREEN,'bt-line');series(ax,Bn,BLUE,'bn-line');
lg=legendBox(1603,1312,73,69,'rtn-legend');
legLine(lg,1613,1323,RED,'','Br',15,38);legLine(lg,1613,1344,GREEN,'','Bt',15,38);legLine(lg,1613,1367,BLUE,'','Bn',15,38);

const frTicks=[-40,-20,0,20,40,60,80,100];
ax=tsPanel('magnetic-field-flux-rope',1638,[-40,100],frTicks,minusLab(frTicks,0),'Magnetic Field (Flux Rope Frame)','B(nT)',52);
zeroLine(ax);
series(ax,Bxp,RED,'bx-prime-line');series(ax,Byp,GREEN,'by-prime-line');series(ax,Bzp,BLUE,'bz-prime-line');series(ax,Btot,'#000','b-magnitude-line');
lg=legendBox(1601,1645,75,91,'flux-rope-legend');
legLine(lg,1610,1660,RED,'',"Bx'",15,36);legLine(lg,1610,1681,GREEN,'',"By'",15,36);legLine(lg,1610,1702,BLUE,'',"Bz'",15,36);legLine(lg,1610,1723,'#000','','|B|',15,36);

const vTicks=[-100,0,100,200,300,400,500];
ax=tsPanel('solar-wind-velocity',1972,[-100,500],vTicks,minusLab(vTicks,0),'Solar Wind Velocity (RTN Frame)','Vsw(km/s)',42);
series(ax,Vr,RED,'vr-line');series(ax,Vt,GREEN,'vt-line');series(ax,Vn,BLUE,'vn-line');
lg=legendBox(1603,1979,73,69,'velocity-legend');
legLine(lg,1613,1991,RED,'','Vr',15,38);legLine(lg,1613,2012,GREEN,'','Vt',15,38);legLine(lg,1613,2034,BLUE,'','Vn',15,38);

const bTicks=[0.025,0.030,0.035,0.040,0.045,0.050,0.055,0.060];
ax=tsPanel('plasma-beta',2306,[0.025,0.060],bTicks,minusLab(bTicks,3),'Plasma Beta',t=>{t.setAttribute('font-style','italic');sub(t,'\u03b2','p',true);},38);
series(ax,beta,BLUE,'beta-line');

const nTicks=[120,130,140,150,160,170];
ax=tsPanel('proton-density',2639,[120,170],nTicks,minusLab(nTicks,0),'Proton Number Density','Np(#/cc)',56);
series(ax,Np,BLUE,'density-line');

const tTicks=[0.045,0.050,0.055,0.060,0.065,0.070,0.075];
ax=tsPanel('proton-temperature',2972,[0.045,0.075],tTicks,minusLab(tTicks,3),t=>{t.appendChild(document.createTextNode('Proton Temperature and '));const a=document.createElementNS(NS,'tspan');a.setAttribute('font-style','italic');a.setAttribute('font-family','Liberation Serif, serif');a.textContent='T';t.appendChild(a);const b=document.createElementNS(NS,'tspan');b.setAttribute('font-size','13');b.setAttribute('dy','5');b.setAttribute('font-style','italic');b.textContent='e';t.appendChild(b);const c=document.createElementNS(NS,'tspan');c.setAttribute('dy','-5');c.setAttribute('font-style','italic');c.setAttribute('font-family','Liberation Serif, serif');c.textContent='/T';t.appendChild(c);const d=document.createElementNS(NS,'tspan');d.setAttribute('font-size','13');d.setAttribute('dy','5');d.setAttribute('font-style','italic');d.textContent='p';t.appendChild(d);},t=>{t.textContent='Tp(10';const s=document.createElementNS(NS,'tspan');s.setAttribute('font-size','10');s.setAttribute('dy','-6');s.textContent='6';t.appendChild(s);const r=document.createElementNS(NS,'tspan');r.setAttribute('dy','6');r.textContent='K)';t.appendChild(r);},38);
series(ax,Tp,BLUE,'temperature-line');
lg=legendBox(123,2980,71,27,'temperature-legend');
legLine(lg,130,2993,BLUE,'','Tp',15,36);
</script>
</body></html>
